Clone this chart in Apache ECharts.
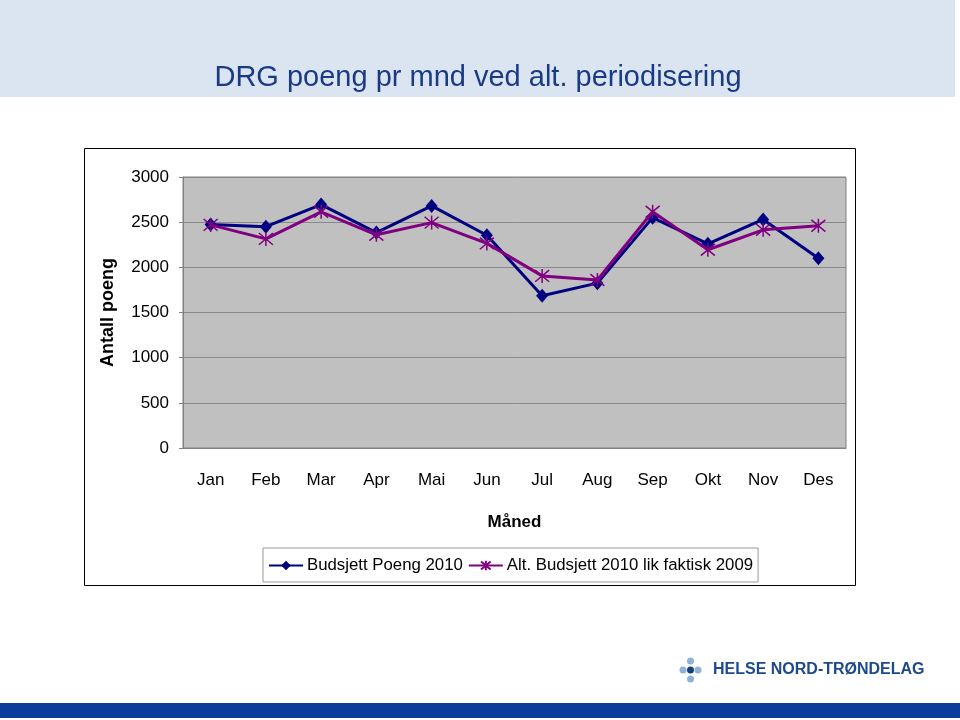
<!DOCTYPE html>
<html><head><meta charset="utf-8">
<script src="https://cdn.jsdelivr.net/npm/echarts@6/dist/echarts.min.js"></script>
<style>html,body{margin:0;padding:0;background:#fff}#c{width:960px;height:720px}</style>
</head><body><div id="c"></div>
<script>
const months = ['Jan','Feb','Mar','Apr','Mai','Jun','Jul','Aug','Sep','Okt','Nov','Des'];
const budsjett2010 = [2475, 2450, 2695, 2385, 2680, 2355, 1685, 1825, 2550, 2260, 2530, 2100];
const altBudsjett = [2470, 2315, 2615, 2360, 2495, 2265, 1905, 1860, 2615, 2195, 2415, 2460];
const yTicks = [0, 500, 1000, 1500, 2000, 2500, 3000];
const seriesNames = ['Budsjett Poeng 2010', 'Alt. Budsjett 2010 lik faktisk 2009'];

const star = 'path://M0,0 L10,10 M10,0 L0,10 M5,-1 L5,11';
const chart = echarts.init(document.getElementById('c'), null, {renderer:'canvas'});
const F = 'Liberation Sans, Arial, sans-serif';
chart.setOption({
  animation:false,
  graphic:[
    {type:'rect', z:-10, shape:{x:0,y:0,width:955,height:97}, style:{fill:'#dbe5f1'}},
    {type:'text', z:-5, x:478, y:78, style:{text:'DRG poeng pr mnd ved alt. periodisering', font:'29px '+F, fill:'#1b3a86', align:'center', verticalAlign:'middle'}},
    {type:'rect', z:-10, shape:{x:84.5,y:148.5,width:771,height:437}, style:{fill:'#fff', stroke:'#000', lineWidth:1}},
    {type:'rect', z:-10, shape:{x:0,y:703,width:960,height:15}, style:{fill:'#0b3b9b'}},
    {type:'circle', shape:{cx:683,cy:670,r:3.5}, style:{fill:'#8db3da'}},
    {type:'circle', shape:{cx:698,cy:670,r:3.5}, style:{fill:'#8db3da'}},
    {type:'circle', shape:{cx:690.5,cy:661,r:3.5}, style:{fill:'#8db3da'}},
    {type:'circle', shape:{cx:690.5,cy:679,r:3.5}, style:{fill:'#8db3da'}},
    {type:'circle', shape:{cx:690.5,cy:670,r:3.5}, style:{fill:'#163f7e'}},
    {type:'text', x:713, y:670, style:{text:'HELSE NORD-TRØNDELAG', font:'bold 16px '+F, fill:'#1d4a8c', verticalAlign:'middle'}}
  ],
  grid:{left:183, right:114, top:177, bottom:272, show:true, backgroundColor:'#c0c0c0', borderColor:'#808080', borderWidth:1},
  legend:{
    left:263, top:548, padding:[9,5,8,5], itemGap:5, itemWidth:34, itemHeight:12,
    backgroundColor:'#fff', borderColor:'#999', borderWidth:1, borderRadius:0,
    textStyle:{fontFamily:F, fontSize:16.8, color:'#000', padding:[0,0,0,-1]},
    data:seriesNames
  },
  xAxis:{
    type:'category', data:months, boundaryGap:true,
    axisLine:{show:true, lineStyle:{color:'#808080'}},
    axisTick:{show:false},
    axisLabel:{fontFamily:F, fontSize:17, color:'#000', margin:24},
    name:'Måned', nameLocation:'middle', nameGap:66,
    nameTextStyle:{fontFamily:F, fontSize:17, fontWeight:'bold', color:'#000'}
  },
  yAxis:{
    type:'value', min:0, max:3000, interval:500,
    axisLine:{show:true, lineStyle:{color:'#808080'}},
    axisTick:{show:true, length:4, lineStyle:{color:'#808080'}},
    axisLabel:{fontFamily:F, fontSize:17, color:'#000', margin:14,
      formatter:v=> yTicks.includes(v) ? String(v) : ''},
    splitLine:{show:true, lineStyle:{color:'#8a8a8a', width:1}},
    name:'Antall poeng', nameLocation:'middle', nameGap:66, nameRotate:90,
    nameTextStyle:{fontFamily:F, fontSize:18, fontWeight:'bold', color:'#000'}
  },
  series:[
    {name:seriesNames[0], type:'line', data:budsjett2010, symbol:'diamond', symbolSize:[12,14],
     lineStyle:{color:'#000080', width:3}, itemStyle:{color:'#000080'}, z:3},
    {name:seriesNames[1], type:'line', data:altBudsjett, symbol:star, symbolSize:[14,14],
     lineStyle:{color:'#800080', width:3}, itemStyle:{color:'none', borderColor:'#800080', borderWidth:1.5}, z:4}
  ]
});
</script></body></html>
